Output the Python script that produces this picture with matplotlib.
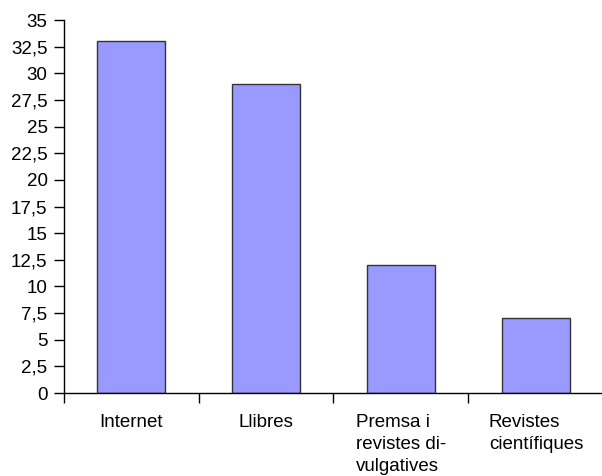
import numpy as np
import matplotlib
matplotlib.use('Agg')
import matplotlib.pyplot as plt

# data
categories = ['Internet', 'Llibres', 'Premsa i\nrevistes di-\nvulgatives', 'Revistes\ncientífiques']
values = [33, 29, 12, 7]
yticks = np.arange(0, 35.1, 2.5)

plt.rcParams['font.family'] = ['Liberation Sans', 'DejaVu Sans']
fs = 13.5

fig = plt.figure(figsize=(6.02, 4.76), dpi=100)
ax = fig.add_axes([63.5/602, 83/476, 540/602, 373/476])

x = np.arange(len(categories))
ax.bar(x, values, width=0.5, color='#9999ff', edgecolor='#333333', linewidth=1.0, zorder=2)

ax.set_xlim(-0.5, len(categories) - 0.5)
ax.set_ylim(0, 35)

# y axis
ax.set_yticks(yticks)
ax.set_yticklabels([('%g' % v).replace('.', ',') for v in yticks], fontsize=fs)
ax.tick_params(axis='y', direction='out', length=7.5, width=1, pad=4)

# x axis: labels at centers, ticks at boundaries
ax.set_xticks(x)
ax.set_xticklabels(categories, fontsize=fs, multialignment='left', linespacing=1.4)
ax.tick_params(axis='x', which='major', length=0, pad=15)
ax.set_xticks(np.arange(-0.5, len(categories), 1.0), minor=True)
ax.tick_params(axis='x', which='minor', direction='out', length=7.5, width=1)

for s in ['top', 'right']:
    ax.spines[s].set_visible(False)
for s in ['left', 'bottom']:
    ax.spines[s].set_linewidth(1.0)
    ax.spines[s].set_color('black')

plt.savefig('out.png', dpi=100)
